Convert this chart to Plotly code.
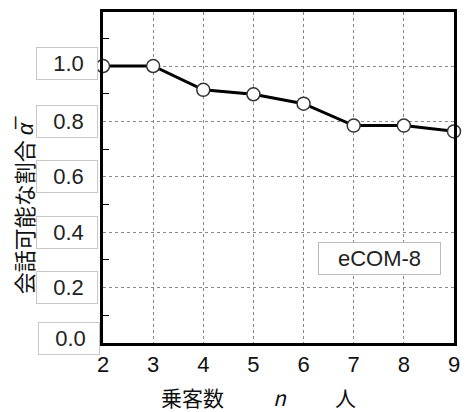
import plotly.graph_objects as go

passengers = [2, 3, 4, 5, 6, 7, 8, 9]
ratio = [1.0, 1.0, 0.914, 0.898, 0.864, 0.785, 0.785, 0.764]
y_ticks = [0.0, 0.2, 0.4, 0.6, 0.8, 1.0]
y_tick_labels = ["0.0", "0.2", "0.4", "0.6", "0.8", "1.0"]
x_ticks = [2, 3, 4, 5, 6, 7, 8, 9]
legend_label = "eCOM-8"

FONT = "Liberation Sans, Arial, sans-serif"
JP = "Noto Sans CJK JP, sans-serif"

fig = go.Figure()
fig.add_trace(go.Scatter(
    x=passengers, y=ratio, mode="lines+markers",
    line=dict(color="black", width=3),
    marker=dict(size=13, color="white", line=dict(color="#333", width=1.5)),
    cliponaxis=False, showlegend=False, hoverinfo="skip",
))

fig.update_layout(
    width=468, height=412,
    margin=dict(l=103, r=8, t=12, b=69),
    plot_bgcolor="white", paper_bgcolor="white",
    font=dict(family=FONT, size=22, color="#111"),
    xaxis=dict(range=[2, 9], tickvals=x_ticks, showgrid=True,
               gridcolor="#888", griddash="3px,3px", gridwidth=1,
               showline=True, linecolor="black", linewidth=2.5, mirror=True,
               ticks="", tickfont=dict(size=22, color="#111"), zeroline=False),
    yaxis=dict(range=[0, 1.195], tickvals=y_ticks, showticklabels=False,
               showgrid=True, gridcolor="#888", griddash="3px,3px", gridwidth=1,
               showline=True, linecolor="black", linewidth=2.5, mirror=True,
               ticks="", zeroline=False,
               minor=dict(tick0=0.1, dtick=0.2, ticks="inside", ticklen=6,
                          tickcolor="black", tickwidth=1, showgrid=False)),
)

for v, lab in zip(y_ticks, y_tick_labels):
    fig.add_annotation(
        x=0, xref="paper", y=v, yref="y", text=lab + "&nbsp;&nbsp;", showarrow=False,
        xanchor="right", yanchor="middle",
        xshift=-3 if v == 0 else -5,
        yshift=5 if v == 0 else (3 if v == 1.0 else 0),
        align="right", width=58, height=29, borderpad=1,
        bordercolor="#c8c8c8", borderwidth=1, bgcolor="white",
        font=dict(family=FONT, size=22, color="#222"),
    )

fig.add_annotation(
    x=0.788, xref="paper", y=0.305, yref="y", text=legend_label, showarrow=False,
    xanchor="center", yanchor="middle", width=119, height=29, borderpad=1,
    bordercolor="#bbb", borderwidth=1, bgcolor="white",
    font=dict(family=FONT, size=22, color="#222"),
)

fig.add_annotation(
    x=-0.227, xref="paper", y=0.417, yref="paper",
    text="会話可能な割合 <i>α̅</i>", textangle=-90, showarrow=False,
    xanchor="center", yanchor="middle",
    font=dict(family=JP, size=22, color="#111"),
)

for txt, px in [("乗客数", 0.255), ("<i>n</i>", 0.504), ("人", 0.692)]:
    fig.add_annotation(
        x=px, xref="paper", y=-0.162, yref="paper",
        text=txt, showarrow=False, xanchor="center", yanchor="middle",
        font=dict(family=JP, size=21, color="#111"),
    )

fig.write_html("out.html", config={"displayModeBar": False},
               post_script="document.body.style.margin='0';")
